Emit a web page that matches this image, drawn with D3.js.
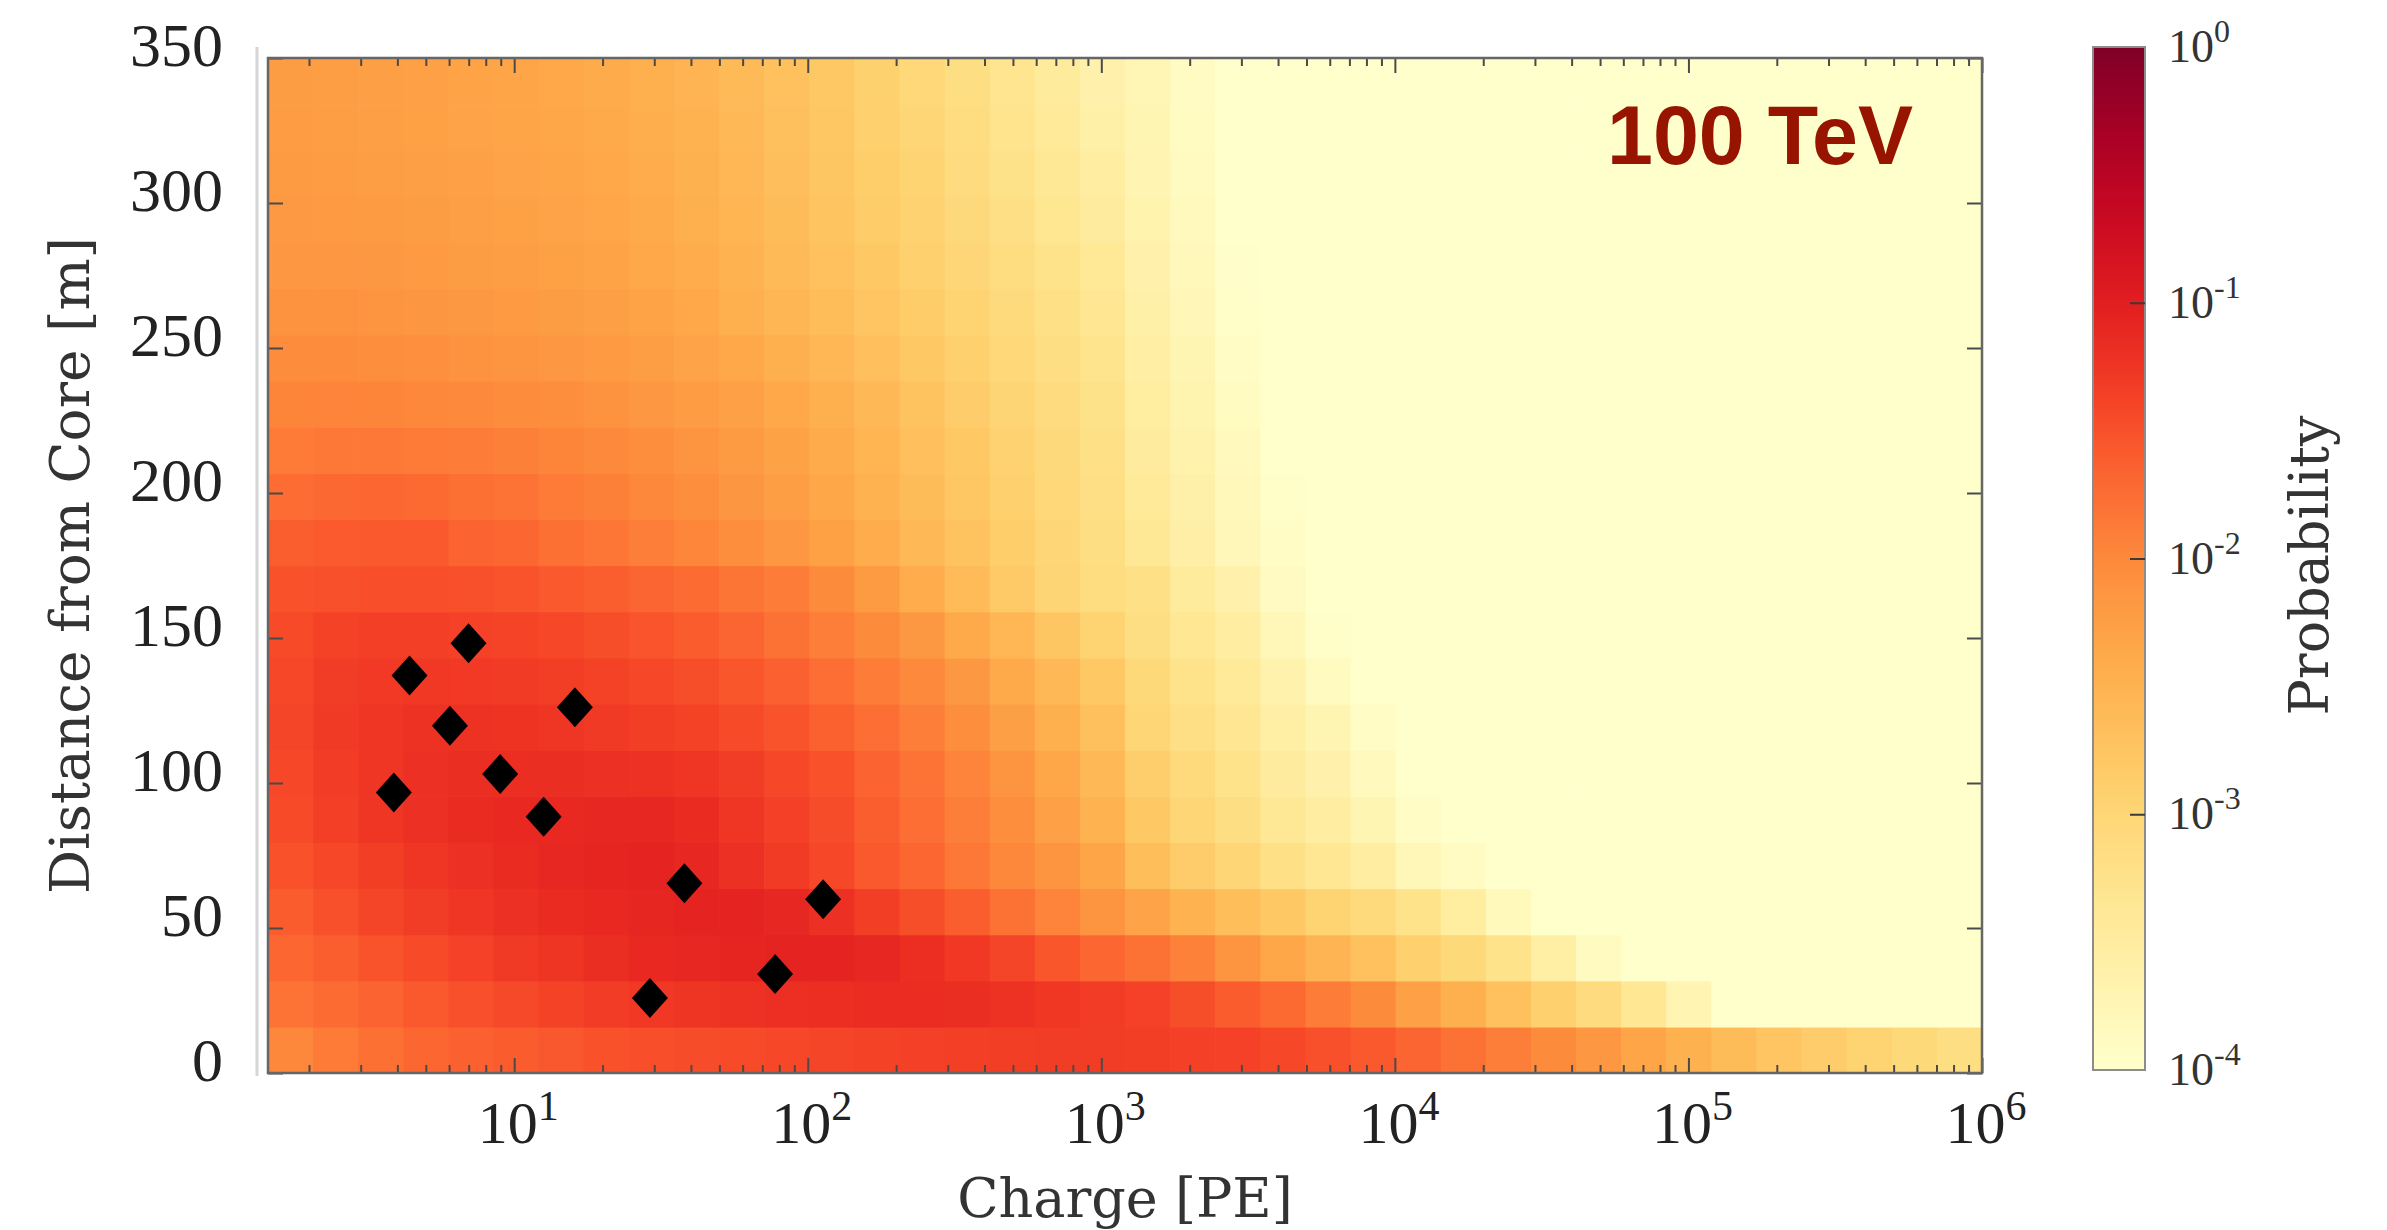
<!DOCTYPE html>
<html>
<head>
<meta charset="utf-8">
<script src="https://cdn.jsdelivr.net/npm/d3@7"></script>
<style>
  html, body { margin: 0; padding: 0; background: #ffffff; }
  svg { display: block; }
</style>
</head>
<body>
<svg id="chart" width="2387" height="1230"></svg>
<script>
// Charge bin edges [PE], log-spaced, 38 bins
const chargeEdges = [1.45, 2.065, 2.942, 4.192, 5.970, 8.503, 12.11, 17.26, 24.58, 35.01,
  49.88, 71.04, 101.2, 144.1, 205.4, 292.5, 416.7, 593.5, 845.5, 1204,
  1716, 2443, 3481, 4958, 7063, 10060, 14330, 20410, 29080, 41420,
  59010, 84040, 119700, 170500, 242900, 346000, 493000, 702200, 1000000];

// Distance-from-core bin edges [m], 22 bins
const distanceEdges = [0, 15.91, 31.82, 47.73, 63.64, 79.55, 95.45, 111.36, 127.27, 143.18,
  159.09, 175, 190.91, 206.82, 222.73, 238.64, 254.55, 270.45, 286.36, 302.27,
  318.18, 334.09, 350];

// log10(probability) per cell; row 0 is the bin nearest the core
const log10Prob = [
  [-1.98,-1.86,-1.77,-1.70,-1.65,-1.60,-1.56,-1.52,-1.49,-1.47, -1.45,-1.42,-1.40,-1.38,-1.36,-1.35,-1.34,-1.33,-1.33,-1.34, -1.36,-1.37,-1.43,-1.50,-1.58,-1.68,-1.78,-1.90,-2.02,-2.15, -2.33,-2.48,-2.63,-2.75,-2.85,-2.95,-3.05,-3.15],
  [-1.80,-1.73,-1.66,-1.58,-1.50,-1.44,-1.38,-1.32,-1.28,-1.24, -1.21,-1.19,-1.17,-1.16,-1.16,-1.18,-1.22,-1.27,-1.32,-1.37, -1.48,-1.60,-1.72,-1.88,-2.02,-2.28,-2.47,-2.70,-2.90,-3.10, -3.35,-3.70,-4.00,-4.20,-4.20,-4.20,-4.20,-4.20],
  [-1.70,-1.62,-1.53,-1.45,-1.37,-1.30,-1.24,-1.18,-1.13,-1.10, -1.08,-1.07,-1.07,-1.10,-1.17,-1.28,-1.40,-1.55,-1.70,-1.78, -1.93,-2.12,-2.35,-2.52,-2.70,-2.90,-3.05,-3.25,-3.55,-3.85, -4.20,-4.20,-4.20,-4.20,-4.20,-4.20,-4.20,-4.20],
  [-1.60,-1.50,-1.40,-1.33,-1.26,-1.20,-1.15,-1.12,-1.09,-1.07, -1.07,-1.10,-1.20,-1.34,-1.48,-1.62,-1.78,-1.95,-2.12,-2.30, -2.50,-2.65,-2.80,-2.95,-3.07,-3.25,-3.50,-3.82,-4.05,-4.20, -4.20,-4.20,-4.20,-4.20,-4.20,-4.20,-4.20,-4.20],
  [-1.52,-1.43,-1.34,-1.26,-1.20,-1.15,-1.10,-1.08,-1.07,-1.10, -1.20,-1.31,-1.43,-1.57,-1.70,-1.84,-1.98,-2.13,-2.33,-2.65, -2.85,-3.00,-3.20,-3.35,-3.52,-3.77,-3.90,-4.20,-4.20,-4.20, -4.20,-4.20,-4.20,-4.20,-4.20,-4.20,-4.20,-4.20],
  [-1.45,-1.35,-1.26,-1.20,-1.15,-1.13,-1.12,-1.10,-1.10,-1.15, -1.26,-1.36,-1.47,-1.62,-1.76,-1.90,-2.05,-2.28,-2.50,-2.80, -3.00,-3.15,-3.37,-3.52,-3.72,-3.92,-4.20,-4.20,-4.20,-4.20, -4.20,-4.20,-4.20,-4.20,-4.20,-4.20,-4.20,-4.20],
  [-1.42,-1.32,-1.25,-1.20,-1.18,-1.17,-1.18,-1.20,-1.22,-1.26, -1.33,-1.42,-1.52,-1.66,-1.80,-1.95,-2.12,-2.35,-2.58,-2.88, -3.08,-3.25,-3.46,-3.62,-3.83,-4.10,-4.20,-4.20,-4.20,-4.20, -4.20,-4.20,-4.20,-4.20,-4.20,-4.20,-4.20,-4.20],
  [-1.40,-1.30,-1.25,-1.22,-1.22,-1.23,-1.26,-1.30,-1.34,-1.38, -1.45,-1.53,-1.64,-1.76,-1.90,-2.05,-2.25,-2.45,-2.68,-3.00, -3.18,-3.33,-3.55,-3.72,-3.92,-4.20,-4.20,-4.20,-4.20,-4.20, -4.20,-4.20,-4.20,-4.20,-4.20,-4.20,-4.20,-4.20],
  [-1.42,-1.33,-1.29,-1.28,-1.29,-1.31,-1.34,-1.38,-1.43,-1.48, -1.55,-1.65,-1.76,-1.88,-2.00,-2.17,-2.38,-2.58,-2.80,-3.05, -3.25,-3.42,-3.65,-3.85,-4.00,-4.20,-4.20,-4.20,-4.20,-4.20, -4.20,-4.20,-4.20,-4.20,-4.20,-4.20,-4.20,-4.20],
  [-1.45,-1.38,-1.35,-1.35,-1.37,-1.39,-1.42,-1.48,-1.54,-1.60, -1.68,-1.78,-1.90,-2.02,-2.17,-2.38,-2.56,-2.76,-2.95,-3.15, -3.35,-3.52,-3.77,-3.95,-4.10,-4.20,-4.20,-4.20,-4.20,-4.20, -4.20,-4.20,-4.20,-4.20,-4.20,-4.20,-4.20,-4.20],
  [-1.52,-1.50,-1.49,-1.49,-1.50,-1.53,-1.58,-1.62,-1.68,-1.73, -1.82,-1.88,-2.02,-2.20,-2.42,-2.62,-2.82,-2.98,-3.12,-3.20, -3.45,-3.62,-3.87,-4.05,-4.20,-4.20,-4.20,-4.20,-4.20,-4.20, -4.20,-4.20,-4.20,-4.20,-4.20,-4.20,-4.20,-4.20],
  [-1.62,-1.59,-1.57,-1.58,-1.66,-1.70,-1.77,-1.83,-1.90,-1.97, -2.06,-2.15,-2.27,-2.42,-2.57,-2.72,-2.87,-3.01,-3.15,-3.37, -3.56,-3.78,-3.92,-4.05,-4.20,-4.20,-4.20,-4.20,-4.20,-4.20, -4.20,-4.20,-4.20,-4.20,-4.20,-4.20,-4.20,-4.20],
  [-1.74,-1.71,-1.70,-1.72,-1.77,-1.80,-1.86,-1.92,-1.98,-2.05, -2.14,-2.23,-2.35,-2.49,-2.63,-2.77,-2.91,-3.04,-3.18,-3.42, -3.60,-3.80,-3.95,-4.10,-4.20,-4.20,-4.20,-4.20,-4.20,-4.20, -4.20,-4.20,-4.20,-4.20,-4.20,-4.20,-4.20,-4.20],
  [-1.86,-1.84,-1.84,-1.86,-1.89,-1.92,-1.96,-2.01,-2.06,-2.12, -2.20,-2.29,-2.40,-2.53,-2.67,-2.80,-2.93,-3.06,-3.20,-3.46, -3.64,-3.84,-4.00,-4.15,-4.20,-4.20,-4.20,-4.20,-4.20,-4.20, -4.20,-4.20,-4.20,-4.20,-4.20,-4.20,-4.20,-4.20],
  [-1.96,-1.95,-1.96,-1.98,-2.01,-2.03,-2.06,-2.10,-2.15,-2.21, -2.28,-2.37,-2.47,-2.59,-2.72,-2.85,-2.98,-3.10,-3.24,-3.50, -3.68,-3.88,-4.05,-4.15,-4.20,-4.20,-4.20,-4.20,-4.20,-4.20, -4.20,-4.20,-4.20,-4.20,-4.20,-4.20,-4.20,-4.20],
  [-2.04,-2.04,-2.05,-2.07,-2.10,-2.12,-2.15,-2.19,-2.24,-2.30, -2.37,-2.46,-2.56,-2.67,-2.79,-2.91,-3.03,-3.15,-3.28,-3.54, -3.72,-3.92,-4.08,-4.20,-4.20,-4.20,-4.20,-4.20,-4.20,-4.20, -4.20,-4.20,-4.20,-4.20,-4.20,-4.20,-4.20,-4.20],
  [-2.10,-2.11,-2.12,-2.14,-2.17,-2.19,-2.22,-2.26,-2.31,-2.37, -2.45,-2.54,-2.64,-2.75,-2.86,-2.97,-3.08,-3.20,-3.33,-3.58, -3.76,-3.95,-4.10,-4.20,-4.20,-4.20,-4.20,-4.20,-4.20,-4.20, -4.20,-4.20,-4.20,-4.20,-4.20,-4.20,-4.20,-4.20],
  [-2.15,-2.16,-2.17,-2.19,-2.22,-2.24,-2.27,-2.31,-2.36,-2.42, -2.50,-2.60,-2.70,-2.80,-2.90,-3.01,-3.12,-3.25,-3.38,-3.62, -3.80,-3.98,-4.12,-4.20,-4.20,-4.20,-4.20,-4.20,-4.20,-4.20, -4.20,-4.20,-4.20,-4.20,-4.20,-4.20,-4.20,-4.20],
  [-2.18,-2.19,-2.20,-2.22,-2.25,-2.27,-2.30,-2.34,-2.39,-2.45, -2.53,-2.63,-2.73,-2.84,-2.94,-3.06,-3.18,-3.32,-3.46,-3.66, -3.83,-4.00,-4.12,-4.20,-4.20,-4.20,-4.20,-4.20,-4.20,-4.20, -4.20,-4.20,-4.20,-4.20,-4.20,-4.20,-4.20,-4.20],
  [-2.20,-2.21,-2.23,-2.25,-2.28,-2.30,-2.33,-2.37,-2.42,-2.48, -2.56,-2.66,-2.76,-2.87,-2.97,-3.10,-3.23,-3.37,-3.52,-3.70, -3.86,-4.02,-4.15,-4.20,-4.20,-4.20,-4.20,-4.20,-4.20,-4.20, -4.20,-4.20,-4.20,-4.20,-4.20,-4.20,-4.20,-4.20],
  [-2.21,-2.23,-2.25,-2.27,-2.30,-2.32,-2.35,-2.39,-2.44,-2.50, -2.58,-2.68,-2.78,-2.90,-3.00,-3.13,-3.27,-3.42,-3.58,-3.72, -3.88,-4.03,-4.15,-4.20,-4.20,-4.20,-4.20,-4.20,-4.20,-4.20, -4.20,-4.20,-4.20,-4.20,-4.20,-4.20,-4.20,-4.20],
  [-2.22,-2.24,-2.26,-2.28,-2.31,-2.33,-2.36,-2.40,-2.45,-2.52, -2.60,-2.70,-2.80,-2.92,-3.03,-3.15,-3.30,-3.45,-3.62,-3.74, -3.90,-4.05,-4.15,-4.20,-4.20,-4.20,-4.20,-4.20,-4.20,-4.20, -4.20,-4.20,-4.20,-4.20,-4.20,-4.20,-4.20,-4.20]
];

// Observed tank hits: charge [PE] and distance from core [m]
const hitCharge   = [6.99, 4.40, 16.1, 6.04, 8.96, 3.89, 12.6, 38.0, 112.8, 77.4, 29.0];
const hitDistance = [148.2, 137.1, 126.1, 119.7, 103.1, 96.7, 88.4, 65.4, 59.9, 34.1, 25.9];

const xTickExponents = [1, 2, 3, 4, 5, 6];
const yTickValues = [0, 50, 100, 150, 200, 250, 300, 350];
const colorTickExponents = [0, -1, -2, -3, -4];
const energyLabel = "100 TeV";

const plot = { left: 268, right: 1982, top: 58, bottom: 1073 };
const cb = { left: 2093, right: 2145, top: 47, bottom: 1070 };

const x = d3.scaleLog()
  .domain([chargeEdges[0], chargeEdges[chargeEdges.length - 1]])
  .range([plot.left, plot.right]);
const y = d3.scaleLinear()
  .domain([distanceEdges[0], distanceEdges[distanceEdges.length - 1]])
  .range([plot.bottom, plot.top]);
const color = d3.scaleSequential(d3.interpolateYlOrRd).domain([-4, 0]).clamp(true);

const svg = d3.select("#chart");
const defs = svg.append("defs");

defs.append("clipPath").attr("id", "plot-clip")
  .append("rect")
  .attr("x", plot.left).attr("y", plot.top)
  .attr("width", plot.right - plot.left).attr("height", plot.bottom - plot.top);

// faint panel guide left of the axes
svg.append("line")
  .attr("x1", 257).attr("x2", 257).attr("y1", 47).attr("y2", 1076)
  .attr("stroke", "#d6d6d6").attr("stroke-width", 3);

// heatmap cells
const cells = [];
log10Prob.forEach((row, r) => row.forEach((v, c) => cells.push({ r, c, v })));
svg.append("g").attr("clip-path", "url(#plot-clip)")
  .selectAll("rect").data(cells).join("rect")
  .attr("x", d => x(chargeEdges[d.c]))
  .attr("y", d => y(distanceEdges[d.r + 1]))
  .attr("width", d => x(chargeEdges[d.c + 1]) - x(chargeEdges[d.c]) + 0.7)
  .attr("height", d => y(distanceEdges[d.r]) - y(distanceEdges[d.r + 1]) + 0.7)
  .attr("fill", d => color(d.v));

// tick marks on all four sides, pointing inward
const majorX = xTickExponents.map(e => Math.pow(10, e));
const minorX = x.ticks().filter(v => Math.abs(Math.log10(v) - Math.round(Math.log10(v))) > 1e-6);

function tickAxis(axisFn, scale, values, size, transform, stroke) {
  const g = svg.append("g").attr("transform", transform)
    .call(axisFn(scale).tickValues(values).tickSize(size).tickFormat(""));
  g.select(".domain").remove();
  g.selectAll(".tick text").remove();
  g.selectAll(".tick line").attr("stroke", stroke || "#4a4a4a").attr("stroke-width", 2);
  return g;
}
tickAxis(d3.axisBottom, x, majorX, -15, `translate(0,${plot.bottom})`);
tickAxis(d3.axisBottom, x, minorX, -8, `translate(0,${plot.bottom})`);
tickAxis(d3.axisTop, x, majorX, -15, `translate(0,${plot.top})`);
tickAxis(d3.axisTop, x, minorX, -8, `translate(0,${plot.top})`);
tickAxis(d3.axisLeft, y, yTickValues, -15, `translate(${plot.left},0)`);
tickAxis(d3.axisRight, y, yTickValues, -15, `translate(${plot.right},0)`);

// frame
svg.append("rect")
  .attr("x", plot.left).attr("y", plot.top)
  .attr("width", plot.right - plot.left).attr("height", plot.bottom - plot.top)
  .attr("fill", "none").attr("stroke", "#666").attr("stroke-width", 2.5);

// hit markers
const hits = hitCharge.map((q, i) => ({ q, d: hitDistance[i] }));
svg.append("g").selectAll("path").data(hits).join("path")
  .attr("transform", d => `translate(${x(d.q)},${y(d.d)})`)
  .attr("d", "M0,-20L18,0L0,20L-18,0Z")
  .attr("fill", "#000");

// y tick labels
svg.append("g").selectAll("text").data(yTickValues).join("text")
  .attr("x", 223).attr("y", d => y(d) - 13).attr("dy", "0.34em")
  .attr("text-anchor", "end")
  .attr("font-family", "'Liberation Serif', 'Times New Roman', serif")
  .attr("font-size", 62).attr("fill", "#222")
  .text(d => d);

// x tick labels (powers of ten)
const xl = svg.append("g").selectAll("text").data(xTickExponents).join("text")
  .attr("x", d => x(Math.pow(10, d)) + 4).attr("y", 1143)
  .attr("text-anchor", "middle")
  .attr("font-family", "'Liberation Serif', 'Times New Roman', serif")
  .attr("font-size", 60).attr("fill", "#222");
xl.append("tspan").text("10");
xl.append("tspan").attr("dy", -23).attr("font-size", 42).text(d => d);

// axis titles
svg.append("text")
  .attr("x", (plot.left + plot.right) / 2).attr("y", 1217)
  .attr("text-anchor", "middle")
  .attr("font-family", "'DejaVu Serif', serif").attr("font-size", 54).attr("fill", "#333")
  .text("Charge [PE]");
svg.append("text")
  .attr("transform", `translate(89,${(plot.top + plot.bottom) / 2}) rotate(-90)`)
  .attr("text-anchor", "middle")
  .attr("font-family", "'DejaVu Serif', serif").attr("font-size", 55).attr("fill", "#333")
  .text("Distance from Core [m]");

// energy tag
svg.append("text")
  .attr("x", 1913).attr("y", 164).attr("text-anchor", "end")
  .attr("font-family", "'Liberation Sans', Arial, sans-serif").attr("font-weight", "bold")
  .attr("font-size", 84).attr("fill", "#961400")
  .attr("textLength", 306).attr("lengthAdjust", "spacingAndGlyphs")
  .text(energyLabel);

// colour bar
const cbScale = d3.scaleLinear().domain([-4, 0]).range([cb.bottom, cb.top]);
const grad = defs.append("linearGradient").attr("id", "cb-grad")
  .attr("x1", 0).attr("y1", 1).attr("x2", 0).attr("y2", 0);
d3.range(0, 1.0001, 0.05).forEach(t => {
  grad.append("stop").attr("offset", t).attr("stop-color", color(-4 + 4 * t));
});
svg.append("rect")
  .attr("x", cb.left).attr("y", cb.top)
  .attr("width", cb.right - cb.left).attr("height", cb.bottom - cb.top)
  .attr("fill", "url(#cb-grad)").attr("stroke", "#8c8c8c").attr("stroke-width", 2);
tickAxis(d3.axisLeft, cbScale, [-1, -2, -3], 15, `translate(${cb.right},0)`, "#3a3a3a");

const cl = svg.append("g").selectAll("text").data(colorTickExponents).join("text")
  .attr("x", 2168).attr("y", d => cbScale(d) + 15)
  .attr("font-family", "'Liberation Serif', 'Times New Roman', serif")
  .attr("font-size", 46).attr("fill", "#333");
cl.append("tspan").text("10");
cl.append("tspan").attr("dy", -20).attr("font-size", 32).text(d => d === 0 ? "0" : "-" + Math.abs(d));

svg.append("text")
  .attr("transform", `translate(2328,${(plot.top + plot.bottom) / 2}) rotate(-90)`)
  .attr("text-anchor", "middle")
  .attr("font-family", "'DejaVu Serif', serif").attr("font-size", 54).attr("fill", "#333")
  .text("Probability");
</script>
</body>
</html>
